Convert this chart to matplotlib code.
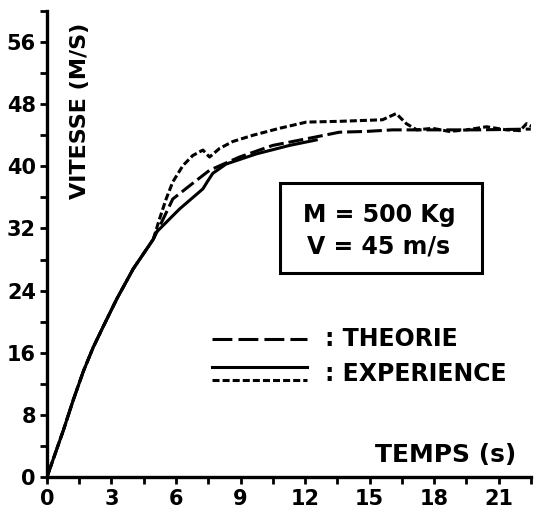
import numpy as np
import matplotlib
matplotlib.use("Agg")
import matplotlib.pyplot as plt
from matplotlib.ticker import MultipleLocator
from matplotlib.patches import Rectangle

# theorie (long dashes)
t_theorie = [0, 0.76, 1.22, 1.69, 2.15, 2.62, 3.24, 4.01, 4.94, 5.4, 5.85, 6.63,
             7.56, 8.95, 10.5, 12.52, 13.6, 14.85, 16.07, 18.0, 20.0, 22.5]
v_theorie = [0, 6.0, 9.9, 13.6, 16.7, 19.4, 22.9, 26.8, 30.6, 33.2, 35.8, 37.5,
             39.5, 41.2, 42.7, 43.8, 44.4, 44.5, 44.7, 44.7, 44.7, 44.8]

# experience 1 (solid)
t_exp1 = [0, 0.76, 1.22, 1.69, 2.15, 2.62, 3.24, 4.01, 4.94, 5.08, 6.16, 7.25,
          7.45, 7.71, 8.33, 9.73, 11.28, 12.52]
v_exp1 = [0, 6.0, 9.9, 13.6, 16.7, 19.4, 22.9, 26.8, 30.6, 31.5, 34.5, 37.1,
          38.0, 39.1, 40.3, 41.6, 42.7, 43.4]

# experience 2 (short dashes)
t_exp2 = [0, 0.76, 1.22, 1.69, 2.15, 2.62, 3.24, 4.01, 4.94, 5.23, 5.54, 5.85,
          6.32, 6.78, 7.25, 7.56, 8.02, 8.64, 9.57, 10.81, 12.06, 13.6, 15.6,
          16.24, 16.71, 17.2, 17.93, 18.7, 19.51, 20.44, 21.37, 22.0, 22.3, 22.58]
v_exp2 = [0, 6.0, 9.9, 13.6, 16.7, 19.4, 22.9, 26.8, 30.6, 33.2, 35.8, 38.0,
          40.1, 41.4, 42.1, 41.2, 42.3, 43.2, 44.0, 44.9, 45.7, 45.8, 46.0,
          46.8, 45.5, 44.7, 44.9, 44.5, 44.7, 45.1, 44.7, 44.6, 45.5, 45.1]

x_major = [0, 3, 6, 9, 12, 15, 18, 21]
y_major = [0, 8, 16, 24, 32, 40, 48, 56]

plt.rcParams["font.weight"] = "bold"

fig = plt.figure(figsize=(5.37, 5.12), dpi=100)
ax = fig.add_axes([0.0875, 0.0684, 0.901, 0.910])

lw = 2.2
ax.plot(t_theorie, v_theorie, color="black", lw=lw, dashes=(4.9, 1.6))
ax.plot(t_exp1, v_exp1, color="black", lw=lw)
ax.plot(t_exp2, v_exp2, color="black", lw=lw, dashes=(2.3, 1.0))

ax.set_xlim(0, 22.5)
ax.set_ylim(0, 60)
ax.set_xticks(x_major)
ax.set_yticks(y_major)
ax.xaxis.set_minor_locator(MultipleLocator(1.5))
ax.yaxis.set_minor_locator(MultipleLocator(4))
ax.tick_params(which="both", direction="out", width=2, length=5, labelsize=15)
ax.tick_params(axis="x", pad=4)
ax.tick_params(axis="y", pad=3)

for side in ["top", "right"]:
    ax.spines[side].set_visible(False)
for side in ["left", "bottom"]:
    ax.spines[side].set_linewidth(2.4)

ax.text(0.068, 0.785, "VITESSE (M/S)", transform=ax.transAxes, rotation=90,
        ha="center", va="center", fontsize=16)
ax.text(0.823, 0.047, "TEMPS (s)", transform=ax.transAxes,
        ha="center", va="center", fontsize=18)

# parameter box
ax.add_patch(Rectangle((0.482, 0.438), 0.417, 0.193, transform=ax.transAxes,
                       fill=False, lw=2.2, ec="black"))
ax.text(0.686, 0.562, "M = 500 Kg", transform=ax.transAxes,
        ha="center", va="center", fontsize=17)
ax.text(0.686, 0.494, "V = 45 m/s", transform=ax.transAxes,
        ha="center", va="center", fontsize=17)

# hand-drawn legend
ax.plot([0.341, 0.537], [0.296, 0.296], transform=ax.transAxes, color="black",
        lw=lw, dashes=(6.5, 2.0))
ax.plot([0.341, 0.537], [0.236, 0.236], transform=ax.transAxes, color="black", lw=lw)
ax.plot([0.341, 0.537], [0.208, 0.208], transform=ax.transAxes, color="black",
        lw=lw, dashes=(2.3, 1.0))
ax.text(0.575, 0.296, ": THEORIE", transform=ax.transAxes,
        ha="left", va="center", fontsize=17)
ax.text(0.575, 0.222, ": EXPERIENCE", transform=ax.transAxes,
        ha="left", va="center", fontsize=17)

fig.savefig("out.png", dpi=100)
